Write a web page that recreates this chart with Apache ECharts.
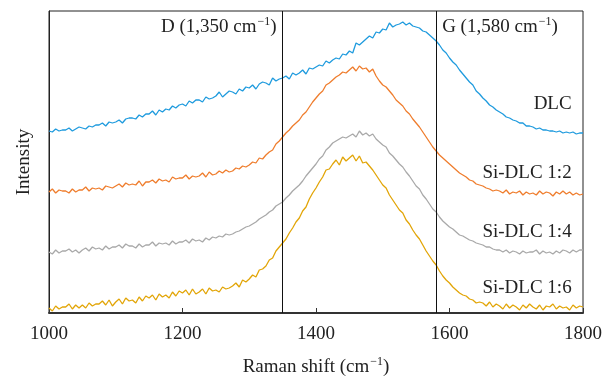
<!DOCTYPE html>
<html>
<head>
<meta charset="utf-8">
<script src="https://cdn.jsdelivr.net/npm/echarts@6/dist/echarts.min.js"></script>
<style>
  html, body { margin: 0; padding: 0; background: #fff; }
  #chart { width: 614px; height: 376px; }
</style>
</head>
<body>
<div id="chart"></div>
<script>
// Raman spectra, 1000–1800 cm-1 sampled every 5 cm-1 (intensity in arbitrary units, stacked offsets)
const shiftStart = 1000;
const shiftStep = 5;

const dlc = [
  182,181,184,182,183, 183,185,182,184,186, 185,184,187,186,188, 188,190,187,191,190,
  191,193,190,194,195, 195,194,198,196,199, 199,202,198,203,201, 204,203,207,205,208,
  209,207,212,210,213, 213,211,216,214,215, 217,221,216,219,222, 221,219,224,222,226,
  225,228,224,229,231, 230,228,235,232,234, 235,237,234,240,238, 240,243,239,245,244,
  246,248,247,252,250, 253,255,254,259,258, 262,260,270,268,271, 274,277,275,281,280,
  284,283,290,286,288, 289,291,288,290,287, 286,285,282,281,278, 275,272,268,263,260,
  255,251,248,243,239, 235,231,228,222,219, 215,212,208,206,203, 201,199,196,195,193,
  192,190,190,187,187, 186,184,185,183,183, 182,182,181,182,180, 181,180,181,179,180,
  180
];

const siDlc12 = [
  121,124,120,123,122, 122,120,124,121,123, 123,126,122,125,124, 125,123,127,126,125,
  127,129,126,130,128, 129,128,132,127,131, 131,133,130,134,132, 133,131,136,134,135,
  135,138,134,137,136, 137,140,136,141,138, 139,142,140,143,141, 142,145,144,147,146,
  148,151,150,155,154, 158,161,163,169,172, 176,180,183,187,190, 193,198,201,206,211,
  215,219,222,228,230, 233,236,238,241,240, 243,246,242,247,244, 245,241,244,237,232,
  228,226,222,218,213, 210,207,202,199,194, 190,186,181,176,171, 166,162,158,155,152,
  149,146,143,140,138, 136,133,132,129,128, 127,125,124,122,123, 122,120,123,119,121,
  120,122,118,121,119, 120,118,122,119,121, 120,117,121,119,122, 119,121,118,120,118,
  119
];

const siDlc14 = [
  61,59,63,60,62, 62,64,61,63,60, 63,65,62,66,64, 65,63,67,64,66,
  66,68,65,69,67, 67,65,69,66,68, 68,71,67,70,69, 70,68,72,69,71,
  71,73,70,74,72, 73,71,75,73,76, 75,77,76,79,78, 79,81,82,84,86,
  87,89,91,94,96, 98,101,103,107,109, 111,115,118,122,125, 128,132,137,141,145,
  149,154,157,163,166, 170,172,174,176,175, 177,179,176,182,178, 180,177,179,174,171,
  168,166,160,157,153, 149,146,141,137,132, 127,124,118,114,109, 104,101,96,92,89,
  86,84,81,78,77, 75,73,72,70,69, 68,66,66,64,63, 63,61,63,60,62,
  61,59,62,60,61, 61,63,59,62,60, 61,59,62,60,63, 62,60,63,61,63,
  63
];

const siDlc16 = [
  5,2,7,4,6, 6,9,4,8,5, 8,5,10,7,9, 9,12,8,13,7,
  11,14,9,15,12, 13,10,16,12,17, 15,18,13,19,16, 18,15,21,17,22,
  20,23,18,24,19, 21,24,19,25,22, 23,21,26,24,25, 27,30,26,33,31,
  34,38,36,43,44, 47,53,55,62,66, 70,74,80,85,91, 95,102,106,114,120,
  125,131,136,143,144, 149,153,148,156,152, 155,158,152,157,150, 151,147,143,138,133,
  128,125,118,113,108, 103,100,93,89,83, 78,74,68,62,57, 52,48,42,37,33,
  30,26,23,20,18, 17,14,13,10,11, 10,7,11,6,9, 7,4,9,5,8,
  6,3,8,5,9, 6,4,8,3,7, 6,9,4,7,5, 6,3,8,5,7,
  6
];

const seriesNames = ['DLC', 'Si-DLC 1:2', 'Si-DLC 1:4', 'Si-DLC 1:6'];
const seriesColors = ['#1f9bde', '#ef7d2d', '#a9a9a9', '#e2a507'];
// label anchor for each curve name: [shift, intensity]
const nameAnchors = [[1783, 209], [1783, 140], [1783, 81], [1783, 25]];

const peakPositions = [1350, 1580];
const peakNames = ['D', 'G'];
const peakValues = ['1,350', '1,580'];

const xTicks = { min: 1000, max: 1800, interval: 200 };
const yRange = { min: 0, max: 302 };

const serif = '"Liberation Serif", "DejaVu Serif", serif';
const textColor = '#222';
const fontSize = 19;
const supRich = {
  base: { fontFamily: serif, fontSize: fontSize, color: textColor, lineHeight: 22 },
  sup: { fontFamily: serif, fontSize: 12, color: textColor, verticalAlign: 'top', lineHeight: 22, padding: [0, 0, 0, 1] }
};

function pairs(values) {
  return values.map((v, i) => [shiftStart + i * shiftStep, v]);
}

const allValues = [dlc, siDlc12, siDlc14, siDlc16];

const series = allValues.map((vals, k) => ({
  name: seriesNames[k],
  type: 'line',
  data: pairs(vals),
  showSymbol: false,
  symbol: 'none',
  silent: true,
  lineStyle: { color: seriesColors[k], width: 1.3 },
  z: 3,
  markPoint: {
    symbol: 'circle',
    symbolSize: 0,
    silent: true,
    data: [{
      coord: nameAnchors[k],
      label: {
        show: true,
        position: 'left',
        distance: 0,
        formatter: seriesNames[k],
        fontFamily: serif,
        fontSize: fontSize,
        color: textColor
      }
    }]
  }
}));

// vertical reference lines at the D and G band positions, with their labels
series.push({
  name: 'bands',
  type: 'line',
  data: [],
  silent: true,
  markLine: {
    symbol: 'none',
    silent: true,
    label: { show: false },
    lineStyle: { color: '#111', width: 1, type: 'solid' },
    data: peakPositions.map(p => ({ xAxis: p }))
  },
  markPoint: {
    symbol: 'circle',
    symbolSize: 0,
    silent: true,
    data: peakPositions.map((p, i) => ({
      coord: [p, 286],
      label: {
        show: true,
        position: i === 0 ? 'left' : 'right',
        distance: 6,
        formatter: '{base|' + peakNames[i] + ' (' + peakValues[i] + ' cm}{sup|−1}{base|)}',
        rich: supRich
      }
    }))
  }
});

const chart = echarts.init(document.getElementById('chart'), null, { renderer: 'canvas' });
chart.setOption({
  animation: false,
  backgroundColor: '#fff',
  grid: {
    left: 49, right: 31, top: 11, bottom: 63,
    containLabel: false,
    outerBoundsMode: 'none',
    show: true, borderColor: '#222', borderWidth: 1, backgroundColor: 'transparent'
  },
  xAxis: {
    type: 'value',
    min: xTicks.min, max: xTicks.max, interval: xTicks.interval,
    name: '{base|Raman shift (cm}{sup|−1}{base|)}',
    nameLocation: 'middle',
    nameGap: 43,
    nameTextStyle: { rich: supRich },
    axisLine: { show: true, lineStyle: { color: '#333', width: 2 } },
    axisTick: { show: true, inside: true, length: 5, lineStyle: { color: '#333', width: 1 } },
    axisLabel: {
      fontFamily: serif, fontSize: fontSize, color: textColor, margin: 12,
      formatter: v => String(v)
    },
    splitLine: { show: false }
  },
  yAxis: {
    type: 'value',
    min: yRange.min, max: yRange.max,
    name: 'Intensity',
    nameLocation: 'middle',
    nameGap: 15,
    nameTextStyle: { fontFamily: serif, fontSize: fontSize, color: textColor },
    axisLine: { show: true, lineStyle: { color: '#222', width: 1 } },
    axisTick: { show: false },
    axisLabel: { show: false },
    splitLine: { show: false }
  },
  series: series
});
</script>
</body>
</html>
